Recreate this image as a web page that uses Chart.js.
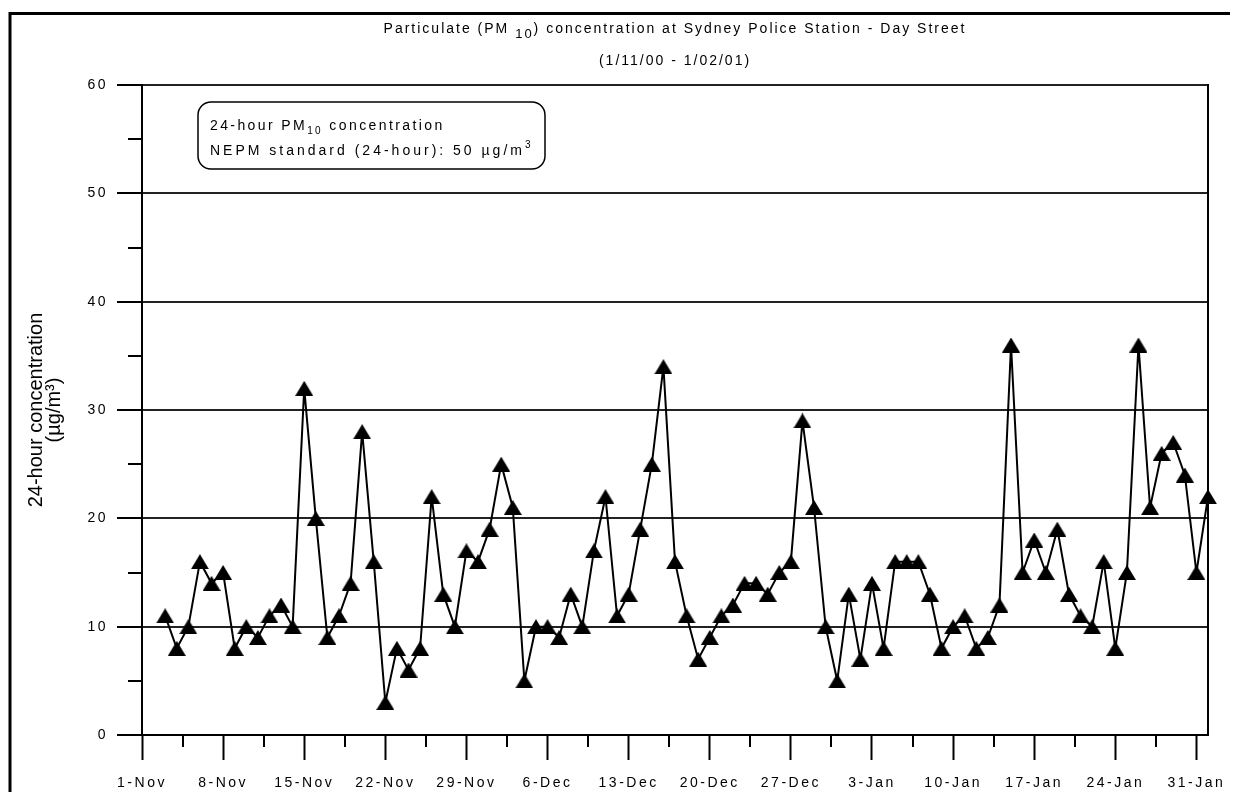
<!DOCTYPE html>
<html>
<head>
<meta charset="utf-8">
<title>Particulate (PM10) concentration at Sydney Police Station - Day Street</title>
<script src="https://cdn.jsdelivr.net/npm/chart.js@4/dist/chart.umd.min.js"></script>
<style>
  html, body { margin: 0; padding: 0; background: #ffffff; }
  #wrap { position: relative; width: 1234px; height: 792px; }
  canvas { display: block; }
</style>
</head>
<body>
<div id="wrap"><canvas id="chart" width="1234" height="792"></canvas></div>
<script>
// ---------------- DATA ----------------
const TITLE_MAIN = ['Particulate (PM ', '10', ') concentration at Sydney Police Station - Day Street'];
const TITLE_SUB = '(1/11/00 - 1/02/01)';
const Y_TITLE = ['24-hour concentration', '(\u00B5g/m\u00B3)'];
const LEGEND_LINE1 = ['24-hour PM', '10', ' concentration'];
const LEGEND_LINE2 = ['NEPM standard (24-hour): 50 \u00B5g/m', '3'];

const AXIS_START = '1-Nov';
const AXIS_END = '1-Feb';
const X_TICK_LABELS = ['1-Nov', '8-Nov', '15-Nov', '22-Nov', '29-Nov', '6-Dec', '13-Dec',
  '20-Dec', '27-Dec', '3-Jan', '10-Jan', '17-Jan', '24-Jan', '31-Jan'];
const Y_TICKS = [0, 10, 20, 30, 40, 50, 60];
const Y_MINOR_TICKS = [5, 15, 25, 35, 45, 55];

// Sampling dates (one value per day, 3-Nov-2000 ... 1-Feb-2001)
const DATES = [
  '3-Nov','4-Nov','5-Nov','6-Nov','7-Nov','8-Nov','9-Nov','10-Nov','11-Nov','12-Nov',
  '13-Nov','14-Nov','15-Nov','16-Nov','17-Nov','18-Nov','19-Nov','20-Nov','21-Nov','22-Nov',
  '23-Nov','24-Nov','25-Nov','26-Nov','27-Nov','28-Nov','29-Nov','30-Nov',
  '1-Dec','2-Dec','3-Dec','4-Dec','5-Dec','6-Dec','7-Dec','8-Dec','9-Dec','10-Dec',
  '11-Dec','12-Dec','13-Dec','14-Dec','15-Dec','16-Dec','17-Dec','18-Dec','19-Dec','20-Dec',
  '21-Dec','22-Dec','23-Dec','24-Dec','25-Dec','26-Dec','27-Dec','28-Dec','29-Dec','30-Dec','31-Dec',
  '1-Jan','2-Jan','3-Jan','4-Jan','5-Jan','6-Jan','7-Jan','8-Jan','9-Jan','10-Jan',
  '11-Jan','12-Jan','13-Jan','14-Jan','15-Jan','16-Jan','17-Jan','18-Jan','19-Jan','20-Jan',
  '21-Jan','22-Jan','23-Jan','24-Jan','25-Jan','26-Jan','27-Jan','28-Jan','29-Jan','30-Jan','31-Jan',
  '1-Feb'
];

// 24-hour PM10 values (ug/m3), same order as DATES
const PM10_VALUES = [
  11, 8, 10, 16, 14, 15, 8, 10, 9, 11,
  12, 10, 32, 20, 9, 11, 14, 28, 16, 3,
  8, 6, 8, 22, 13, 10, 17, 16,
  19, 25, 21, 5, 10, 10, 9, 13, 10, 17, 22, 11,
  13, 19, 25, 34, 16, 11, 7, 9, 11, 12,
  14, 14, 13, 15, 16, 29, 21, 10, 5,
  13, 7, 14, 8, 16, 16, 16, 13, 8, 10,
  11, 8, 9, 12, 36, 15, 18, 15, 19, 13,
  11, 10, 16, 8, 15, 36, 21, 26, 27, 24,
  15, 22
];

// ---------------- HELPERS ----------------
const MONTH_START = { Nov: 0, Dec: 30, Jan: 61, Feb: 92 };
function dayIndex(label) {
  const parts = label.split('-');
  return MONTH_START[parts[1]] + Number(parts[0]) - 1;
}
const X_TICK_DAYS = X_TICK_LABELS.map(dayIndex);
const X_MINOR_DAYS = X_TICK_DAYS.slice(1).map((d, i) => (d + X_TICK_DAYS[i]) / 2);

const FONT = "'Liberation Sans', Arial, Helvetica, sans-serif";

function drawRich(ctx, parts, x, y, align, spacing) {
  ctx.save();
  ctx.letterSpacing = spacing + 'px';
  ctx.textAlign = 'left';
  ctx.textBaseline = 'alphabetic';
  ctx.fillStyle = '#000';
  let total = 0;
  const widths = parts.map(p => {
    ctx.font = p.size + 'px ' + FONT;
    const w = ctx.measureText(p.text).width;
    total += w;
    return w;
  });
  let cx = align === 'center' ? x - total / 2 : x;
  parts.forEach((p, i) => {
    ctx.font = p.size + 'px ' + FONT;
    ctx.fillText(p.text, cx, y + (p.dy || 0));
    cx += widths[i];
  });
  ctx.restore();
}

// Triangle marker image (Chart.js centres it on each data point)
const marker = document.createElement('canvas');
marker.width = 18; marker.height = 15;
(function () {
  const m = marker.getContext('2d');
  m.fillStyle = '#000';
  m.beginPath();
  m.moveTo(9, 0);
  m.lineTo(18, 15);
  m.lineTo(0, 15);
  m.closePath();
  m.fill();
})();

// ---------------- PLUGINS ----------------
const decorations = {
  id: 'decorations',
  beforeDraw(chart) {
    chart.ctx.letterSpacing = '2.5px';
  },
  beforeDatasetsDraw(chart) {
    const ctx = chart.ctx;
    const a = chart.chartArea;
    ctx.save();
    ctx.strokeStyle = '#000';
    ctx.lineWidth = 2;
    // right border of plot area
    ctx.beginPath();
    ctx.moveTo(Math.round(a.right), a.top - 1);
    ctx.lineTo(Math.round(a.right), a.bottom + 1);
    ctx.stroke();
    // minor ticks
    const xs = chart.scales.x, ys = chart.scales.y;
    ctx.beginPath();
    Y_MINOR_TICKS.forEach(v => {
      const py = Math.round(ys.getPixelForValue(v));
      ctx.moveTo(a.left - 14, py);
      ctx.lineTo(a.left, py);
    });
    X_MINOR_DAYS.forEach(v => {
      const px = Math.round(xs.getPixelForValue(v));
      ctx.moveTo(px, a.bottom);
      ctx.lineTo(px, a.bottom + 12);
    });
    ctx.stroke();
    ctx.restore();
  },
  afterDraw(chart) {
    const ctx = chart.ctx;
    const a = chart.chartArea;
    ctx.save();
    // outer frame (top and left edges)
    ctx.strokeStyle = '#000';
    ctx.lineWidth = 3;
    ctx.beginPath();
    ctx.moveTo(10, 800);
    ctx.lineTo(10, 13.5);
    ctx.lineTo(1230, 13.5);
    ctx.stroke();

    // title
    const cx = (a.left + a.right) / 2;
    drawRich(ctx, [
      { text: TITLE_MAIN[0], size: 14 },
      { text: TITLE_MAIN[1], size: 13, dy: 5 },
      { text: TITLE_MAIN[2], size: 14 }
    ], cx, 33, 'center', 2);
    drawRich(ctx, [{ text: TITLE_SUB, size: 14 }], cx, 65, 'center', 2);

    // legend box
    const bx = a.left + 56, by = a.top + 17, bw = 347, bh = 67, r = 13;
    ctx.lineWidth = 1.5;
    ctx.strokeStyle = '#000';
    ctx.fillStyle = '#fff';
    ctx.beginPath();
    ctx.roundRect(bx, by, bw, bh, r);
    ctx.fill();
    ctx.stroke();
    drawRich(ctx, [
      { text: LEGEND_LINE1[0], size: 14 },
      { text: LEGEND_LINE1[1], size: 10, dy: 4 },
      { text: LEGEND_LINE1[2], size: 14 }
    ], bx + 12, by + 28, 'left', 2.4);
    drawRich(ctx, [
      { text: LEGEND_LINE2[0], size: 14 },
      { text: LEGEND_LINE2[1], size: 10, dy: -7 }
    ], bx + 12, by + 53, 'left', 3.0);

    // y-axis title
    ctx.save();
    ctx.letterSpacing = '0px';
    ctx.fillStyle = '#000';
    ctx.textAlign = 'center';
    ctx.textBaseline = 'middle';
    ctx.font = '20px ' + FONT;
    const my = (a.top + a.bottom) / 2;
    ctx.translate(36, my);
    ctx.rotate(-Math.PI / 2);
    ctx.fillText(Y_TITLE[0], 0, 0);
    ctx.fillText(Y_TITLE[1], 0, 18);
    ctx.restore();
    ctx.restore();
  }
};

// ---------------- CHART ----------------
new Chart(document.getElementById('chart'), {
  type: 'line',
  data: {
    datasets: [{
      label: '24-hour PM10 concentration',
      data: DATES.map((d, i) => ({ x: dayIndex(d), y: PM10_VALUES[i] })),
      borderColor: '#000',
      backgroundColor: '#000',
      borderWidth: 2,
      tension: 0,
      fill: false,
      pointStyle: marker,
      pointRadius: 9,
      pointHoverRadius: 9,
      clip: false
    }]
  },
  options: {
    responsive: false,
    animation: false,
    devicePixelRatio: 1,
    events: [],
    layout: { padding: { left: 0, right: 26, top: 85, bottom: 0 } },
    plugins: {
      legend: { display: false },
      title: { display: false },
      tooltip: { enabled: false }
    },
    scales: {
      x: {
        type: 'linear',
        min: dayIndex(AXIS_START),
        max: dayIndex(AXIS_END),
        afterBuildTicks: s => { s.ticks = X_TICK_DAYS.map(v => ({ value: v })); },
        afterFit: s => { s.height = 57; },
        ticks: {
          autoSkip: false, maxRotation: 0, minRotation: 0,
          color: '#000',
          font: { family: FONT, size: 14 },
          padding: 15,
          callback: (v, i) => X_TICK_LABELS[i]
        },
        grid: {
          drawOnChartArea: false, drawTicks: true,
          tickLength: 25, tickColor: '#000', tickWidth: 2
        },
        border: { display: true, color: '#000', width: 2 }
      },
      y: {
        min: Y_TICKS[0],
        max: Y_TICKS[Y_TICKS.length - 1],
        afterBuildTicks: s => { s.ticks = Y_TICKS.map(v => ({ value: v })); },
        afterFit: s => { s.width = 142; },
        ticks: {
          color: '#000',
          font: { family: FONT, size: 14 },
          padding: 9
        },
        grid: {
          drawOnChartArea: true,
          color: '#222', lineWidth: 2,
          tickLength: 25, tickColor: '#000', tickWidth: 2
        },
        border: { display: true, color: '#000', width: 2 }
      }
    }
  },
  plugins: [decorations]
});
</script>
</body>
</html>
